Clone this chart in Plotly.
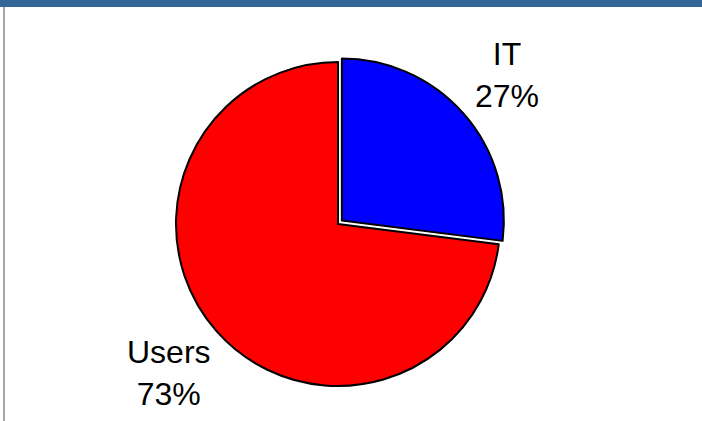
import math
import plotly.graph_objects as go

# Share of effort by group
labels = ["IT", "Users"]
values = [27, 73]
colors = ["#0000ff", "#ff0000"]
pulls = [0.032, 0.0]

W, H = 702, 421
cx, cy = 338, 224          # pie centre in pixels (from top-left)
r_drawn = 162              # rendered radius of the pie
r_dom = r_drawn * (1 + max(pulls))

fig = go.Figure(
    go.Pie(
        labels=labels,
        values=values,
        marker=dict(colors=colors, line=dict(color="black", width=2)),
        pull=pulls,
        sort=False,
        direction="clockwise",
        rotation=0,
        textinfo="none",
        hoverinfo="label+percent",
        showlegend=False,
        domain=dict(
            x=[(cx - r_dom) / W, (cx + r_dom) / W],
            y=[1 - (cy + r_dom) / H, 1 - (cy - r_dom) / H],
        ),
    )
)

# Labels outside each slice, placed along the slice's mid-angle
total = sum(values)
start = 0.0
annotations = []
for lab, val in zip(labels, values):
    frac = val / total
    mid = (start + frac / 2) * 2 * math.pi
    start += frac
    dist = 1.39 * r_drawn
    px = cx + dist * math.sin(mid)
    py = cy - dist * math.cos(mid)
    annotations.append(
        dict(
            x=px / W,
            y=1 - py / H,
            xref="paper",
            yref="paper",
            text=f"{lab}<br>{round(frac * 100)}%",
            showarrow=False,
            xanchor="center",
            yanchor="middle",
            font=dict(family="Liberation Sans, Arial, sans-serif", size=32, color="black"),
        )
    )

shapes = [
    # header band
    dict(type="rect", xref="paper", yref="paper", x0=0, x1=1,
         y0=1 - 7 / H, y1=1, fillcolor="#336699", line=dict(width=0), layer="above"),
    # left frame rule
    dict(type="line", xref="paper", yref="paper", x0=4 / W, x1=4 / W,
         y0=0, y1=1 - 7 / H, line=dict(color="#8a8a8a", width=1.5)),
]

fig.update_layout(
    width=W,
    height=H,
    autosize=False,
    margin=dict(l=0, r=0, t=0, b=0),
    paper_bgcolor="white",
    plot_bgcolor="white",
    annotations=annotations,
    shapes=shapes,
)

fig.write_html("out.html")
